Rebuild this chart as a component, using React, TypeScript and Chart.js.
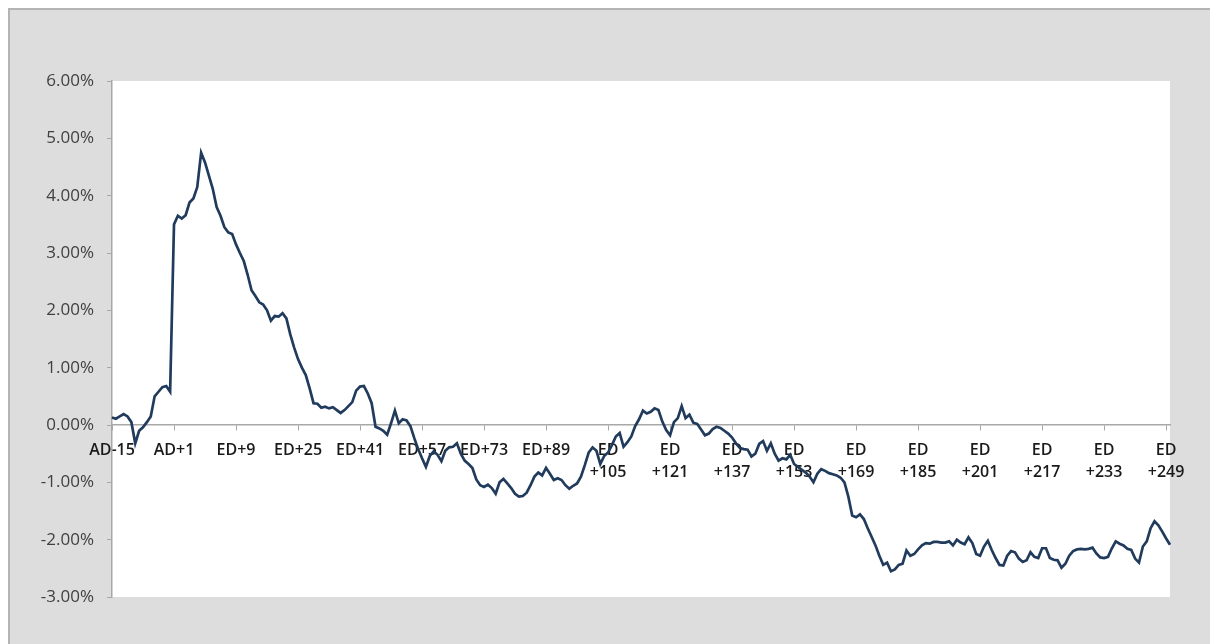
import { useEffect, useRef } from 'react';
import { Chart, registerables } from 'chart.js';

Chart.register(...registerables);

// Cumulative abnormal return (%) for each event day
const returns: number[] = [
  0.13, 0.11, 0.15, 0.19, 0.15, 0.05, -0.32, -0.10, -0.04, 0.05,
  0.15, 0.50, 0.58, 0.66, 0.68, 0.58, 3.50, 3.65, 3.60, 3.66,
  3.88, 3.95, 4.15, 4.75, 4.58, 4.35, 4.12, 3.80, 3.65, 3.45,
  3.36, 3.33, 3.15, 3.00, 2.86, 2.62, 2.35, 2.25, 2.14, 2.10,
  2.00, 1.82, 1.90, 1.89, 1.95, 1.86, 1.58, 1.35, 1.15, 1.00,
  0.87, 0.64, 0.38, 0.37, 0.30, 0.32, 0.29, 0.31, 0.26, 0.21,
  0.26, 0.33, 0.40, 0.60, 0.67, 0.68, 0.55, 0.38, -0.03, -0.06,
  -0.10, -0.17, 0.03, 0.25, 0.03, 0.10, 0.08, -0.02, -0.23, -0.42,
  -0.58, -0.73, -0.54, -0.46, -0.52, -0.63, -0.45, -0.39, -0.38, -0.32,
  -0.50, -0.62, -0.68, -0.75, -0.95, -1.05, -1.08, -1.04, -1.10, -1.20,
  -1.00, -0.94, -1.02, -1.10, -1.20, -1.25, -1.24, -1.18, -1.05, -0.90,
  -0.83, -0.88, -0.75, -0.85, -0.96, -0.93, -0.96, -1.05, -1.11, -1.06,
  -1.02, -0.90, -0.70, -0.48, -0.39, -0.45, -0.68, -0.54, -0.48, -0.35,
  -0.20, -0.14, -0.38, -0.30, -0.20, -0.02, 0.10, 0.25, 0.20, 0.23,
  0.29, 0.26, 0.06, -0.09, -0.18, 0.05, 0.12, 0.33, 0.12, 0.18,
  0.04, 0.02, -0.08, -0.18, -0.15, -0.07, -0.03, -0.05, -0.10, -0.15,
  -0.22, -0.32, -0.40, -0.42, -0.43, -0.55, -0.50, -0.33, -0.28, -0.45,
  -0.32, -0.50, -0.62, -0.58, -0.60, -0.52, -0.68, -0.73, -0.78, -0.83,
  -0.90, -1.00, -0.85, -0.77, -0.80, -0.84, -0.86, -0.88, -0.92, -1.00,
  -1.25, -1.58, -1.61, -1.56, -1.64, -1.80, -1.95, -2.10, -2.28, -2.44,
  -2.40, -2.55, -2.52, -2.44, -2.42, -2.19, -2.28, -2.25, -2.17, -2.10,
  -2.06, -2.07, -2.04, -2.04, -2.05, -2.05, -2.03, -2.10, -2.00, -2.05,
  -2.08, -1.96, -2.06, -2.25, -2.28, -2.12, -2.02, -2.18, -2.32, -2.44,
  -2.45, -2.28, -2.20, -2.22, -2.33, -2.39, -2.36, -2.22, -2.30, -2.32,
  -2.15, -2.15, -2.32, -2.35, -2.36, -2.49, -2.42, -2.28, -2.20, -2.17,
  -2.16, -2.17, -2.16, -2.14, -2.24, -2.31, -2.32, -2.30, -2.15, -2.03,
  -2.07, -2.10, -2.16, -2.18, -2.33, -2.40, -2.12, -2.03, -1.80, -1.68,
  -1.75, -1.86, -1.98, -2.09,
];

// Event-day categories: AD-15 … AD+8, then ED+1 … ED+250
const adDays: string[] = [
  'AD-15', 'AD-14', 'AD-13', 'AD-12', 'AD-11', 'AD-10', 'AD-9', 'AD-8',
  'AD-7', 'AD-6', 'AD-5', 'AD-4', 'AD-3', 'AD-2', 'AD-1', 'AD0',
  'AD+1', 'AD+2', 'AD+3', 'AD+4', 'AD+5', 'AD+6', 'AD+7', 'AD+8',
];
const edDays: string[] = returns.slice(adDays.length).map((_, i) => `ED+${i + 1}`);
const categories: string[] = [...adDays, ...edDays];

const labelEvery = 16;
const yMin = -3;
const yMax = 6;
const yStep = 1;

const formatTick = (label: string): string | string[] => {
  const m = /^ED\+(\d+)$/.exec(label);
  if (m && Number(m[1]) >= 100) return ['ED', '+' + m[1]];
  return label;
};

const whiteArea = {
  id: 'whiteArea',
  beforeDraw(chart: any) {
    const { ctx, chartArea } = chart;
    if (!chartArea) return;
    ctx.save();
    ctx.fillStyle = '#ffffff';
    ctx.fillRect(chartArea.left, chartArea.top, chartArea.right - chartArea.left, chartArea.bottom - chartArea.top);
    ctx.restore();
  },
};

export default function App() {
  const ref = useRef<HTMLCanvasElement | null>(null);

  useEffect(() => {
    if (!ref.current) return;
    const chart = new Chart(ref.current, {
      type: 'line',
      data: {
        labels: categories,
        datasets: [
          {
            data: returns,
            borderColor: '#213b5c',
            borderWidth: 2.7,
            pointRadius: 0,
            tension: 0,
            fill: false,
          },
        ],
      },
      options: {
        animation: false,
        responsive: false,
        layout: { padding: { top: 71, right: 40, bottom: 47, left: 0 } },
        plugins: { legend: { display: false }, tooltip: { enabled: false } },
        scales: {
          x: {
            type: 'category',
            position: { y: 0 } as any,
            afterBuildTicks: (scale: any) => {
              scale.ticks = scale.ticks.filter((t: any) => t.value % labelEvery === 0);
            },
            grid: {
              display: true,
              drawOnChartArea: false,
              drawTicks: true,
              tickLength: 5,
              color: '#a8a8a8',
            },
            border: { display: true, color: '#a8a8a8', width: 1.5 },
            ticks: {
              autoSkip: false,
              maxRotation: 0,
              minRotation: 0,
              padding: 9,
              color: '#1a1a1a',
              font: { family: "'Open Sans', sans-serif", size: 16, weight: 600, lineHeight: 1.4 },
              callback: (value: any) => formatTick(categories[value as number]),
            },
          },
          y: {
            min: yMin,
            max: yMax,
            afterFit: (scale: any) => {
              scale.width = 102;
            },
            grid: {
              display: true,
              drawOnChartArea: false,
              drawTicks: true,
              tickLength: 5,
              color: '#a8a8a8',
            },
            border: { display: true, color: '#a8a8a8', width: 1.5 },
            ticks: {
              stepSize: yStep,
              padding: 13,
              color: '#404040',
              font: { family: "'Open Sans', sans-serif", size: 17 },
              callback: (v: any) => Number(v).toFixed(2) + '%',
            },
          },
        },
      },
      plugins: [whiteArea],
    });
    return () => chart.destroy();
  }, []);

  return (
    <div
      style={{
        width: 1200,
        height: 650,
        border: '2px solid #b4b4b4',
        background: '#dddddd',
      }}
    >
      <canvas ref={ref} width={1200} height={634} style={{ display: 'block' }} />
    </div>
  );
}
